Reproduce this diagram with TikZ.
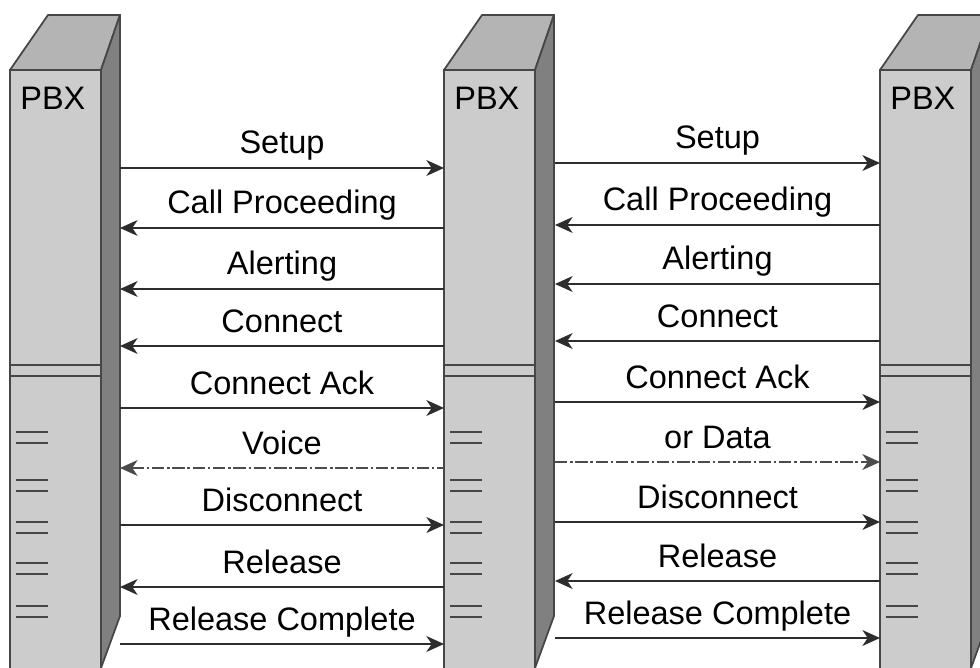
\documentclass[tikz,border=0pt]{standalone}
\usepackage{fontspec}
\setmainfont{Liberation Sans}
\usetikzlibrary{arrows.meta}

\definecolor{frontgray}{RGB}{204,204,204}
\definecolor{topgray}{RGB}{180,180,180}
\definecolor{sidegray}{RGB}{128,128,128}
\definecolor{edgegray}{RGB}{70,70,70}
\definecolor{linegray}{RGB}{45,45,45}

\tikzset{
  frontface/.style={fill=frontgray, draw=edgegray, line width=1pt},
  topface/.style={fill=topgray, draw=edgegray, line width=1pt, line join=round},
  sideface/.style={fill=sidegray, draw=edgegray, line width=1pt, line join=round},
  sepline/.style={draw=edgegray, line width=1.5pt},
  tickline/.style={draw=edgegray, line width=1.4pt},
  msg/.style={draw=linegray, line width=1.2pt},
  voiceline/.style={msg, draw=linegray!85, dash pattern=on 7pt off 1.6pt on 1.4pt off 1.6pt},
  lbl/.style={midway, anchor=base, yshift=0.28cm}
}

\begin{document}
\begin{tikzpicture}[x=0.02cm, y=-0.02cm, font=\fontsize{18.5}{21}\selectfont,
    >={Stealth[length=10pt, width=9pt, inset=3pt]}]
  \clip (0,0) rectangle (980,668);
  \fill[white] (0,0) rectangle (980,668);

  % Define PBX towers
  \foreach \x/\n in {10/pbxA, 444/pbxB, 880/pbxC} {
    \draw[frontface] (\x,70) rectangle (\x+91,690);
    \draw[topface] (\x,70) -- (\x+38,15) -- (\x+110,15) -- (\x+91,70) -- cycle;
    \draw[sideface] (\x+91,70) -- (\x+110,15) -- (\x+110,616) -- (\x+91,668) -- cycle;
    \node[anchor=base west, inner sep=0pt] (\n) at (\x+10,110) {PBX};
    \draw[sepline] (\x,365) -- (\x+91,365) (\x,376) -- (\x+91,376);
    \foreach \y in {432,480,522,563,606}
      \draw[tickline] (\x+6,\y) -- (\x+38,\y) (\x+6,\y+11) -- (\x+38,\y+11);
  }

  % Messages between first and second PBX
  \foreach \y/\t [count=\i] in {168/Setup, 408/Connect Ack, 525/Disconnect, 644/Release Complete} {
    \coordinate (af\i) at (120,\y);
    \coordinate (bf\i) at (444,\y);
    \draw[msg, ->] (af\i) -- (bf\i) node[lbl] (abf\i) {\t};
  }
  \foreach \y/\t [count=\i] in {228/Call Proceeding, 289/Alerting, 346/Connect, 587/Release} {
    \coordinate (ab\i) at (120,\y);
    \coordinate (bb\i) at (444,\y);
    \draw[msg, <-] (ab\i) -- (bb\i) node[lbl] (abb\i) {\t};
  }
  \coordinate (av) at (120,468);
  \coordinate (bv) at (444,468);
  \draw[voiceline, <-] (av) -- (bv) node[lbl] (voice) {Voice};

  % Messages between second and third PBX
  \foreach \y/\t [count=\i] in {163/Setup, 402/Connect Ack, 522/Disconnect, 638/Release Complete} {
    \coordinate (cf\i) at (555,\y);
    \coordinate (df\i) at (880,\y);
    \draw[msg, ->] (cf\i) -- (df\i) node[lbl] (cdf\i) {\t};
  }
  \foreach \y/\t [count=\i] in {225/Call Proceeding, 284/Alerting, 341/Connect, 581/Release} {
    \coordinate (cb\i) at (555,\y);
    \coordinate (db\i) at (880,\y);
    \draw[msg, <-] (cb\i) -- (db\i) node[lbl] (cdb\i) {\t};
  }
  \coordinate (cd) at (555,462);
  \coordinate (dd) at (880,462);
  \draw[voiceline, ->] (cd) -- (dd) node[lbl] (data) {or Data};
\end{tikzpicture}
\end{document}
